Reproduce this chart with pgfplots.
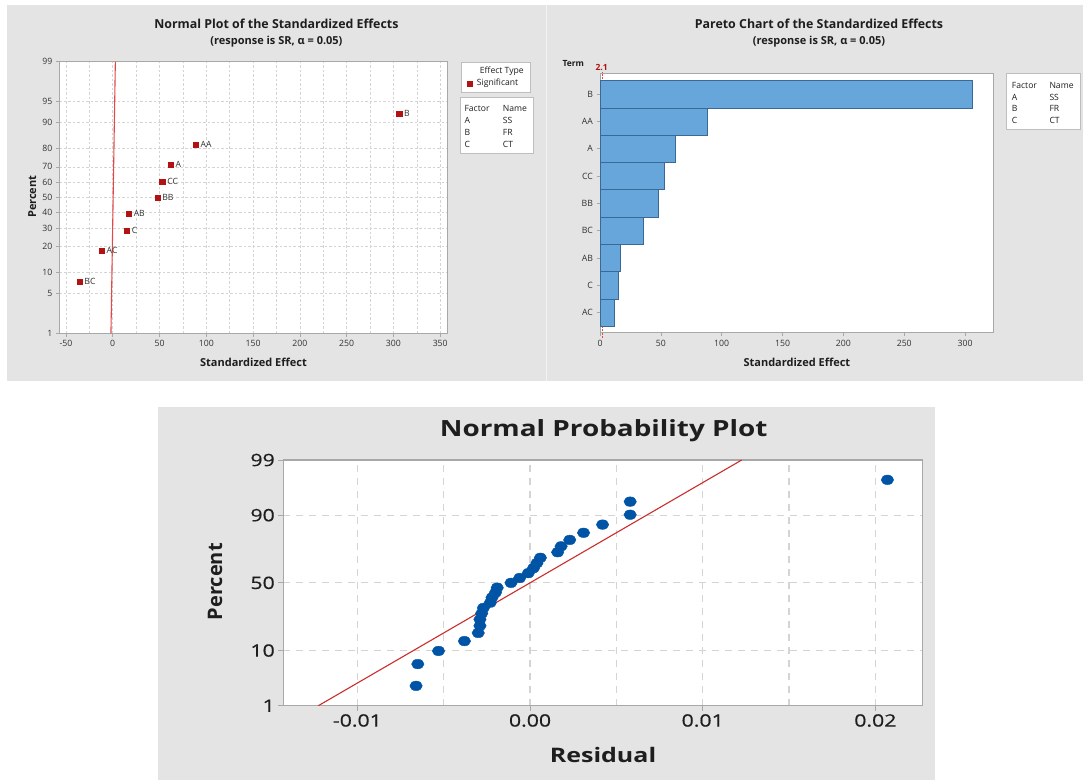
\documentclass[border=0pt]{standalone}
\usepackage{fontspec}
\setmainfont{Open Sans}
\newfontfamily\widefont[FakeStretch=1.25]{Open Sans}
\newfontfamily\widetickfont[FakeStretch=1.25, FakeBold=0.6]{Open Sans}
\usepackage{pgfplots}
\usepackage{pgfplotstable}
\pgfplotsset{compat=1.18}

\definecolor{panel}{RGB}{228,228,228}
\definecolor{divider}{RGB}{242,242,242}
\definecolor{framegray}{RGB}{168,168,168}
\definecolor{gridgray}{RGB}{212,212,212}
\definecolor{boxgray}{RGB}{190,190,190}
\definecolor{txt}{RGB}{30,30,30}
\definecolor{ticktxt}{RGB}{50,50,50}
\definecolor{effred}{RGB}{178,18,18}
\definecolor{refred}{RGB}{226,72,72}
\definecolor{fitred}{RGB}{204,45,45}
\definecolor{resblue}{RGB}{0,84,166}
\definecolor{barblue}{RGB}{102,166,218}
\definecolor{baredge}{RGB}{60,104,150}

% standardized effects (x) against normal scores (z) of their median ranks
\pgfplotstableread{
x      z        label
-35.7  -1.4431  BC
-11.9  -0.9121  AC
15.0   -0.5615  C
17.0   -0.2699  AB
47.6   0        BB
52.8   0.2699   CC
61.8   0.5615   A
88.5   0.9121   AA
306.0  1.4431   B
}\effects

% absolute standardized effects, Pareto order (row 0 at the bottom)
\pgfplotstableread{
pos effect
8   306.0
7   88.5
6   61.8
5   52.8
4   47.6
3   35.7
2   17.0
1   15.0
0   11.9
}\pareto

% residuals against normal scores, n = 27
\pgfplotstableread{
res      z
-0.0066  -1.9507
-0.0065  -1.5379
-0.0053  -1.2899
-0.0038  -1.1029
-0.0030  -0.9481
-0.0029  -0.8133
-0.0029  -0.6918
-0.0028  -0.5798
-0.0027  -0.4747
-0.0023  -0.3745
-0.0022  -0.2780
-0.0020  -0.1840
-0.0019  -0.0916
-0.0011  0
-0.0006  0.0916
-0.0001  0.1840
0.0002   0.2780
0.0004   0.3745
0.0006   0.4747
0.0016   0.5798
0.0018   0.6918
0.0023   0.8133
0.0031   0.9481
0.0042   1.1029
0.0058   1.2899
0.0058   1.5379
0.0207   1.9507
}\resid

\pgfplotsset{
  mtb/.style={
    scale only axis,
    axis background/.style={fill=white},
    tick align=outside,
    tick pos=left,
    tick style={framegray, line width=0.7pt},
    /pgf/number format/assume math mode=true,
  },
  smallkey/.style={
    legend image code/.code={\draw[mark repeat=2,mark phase=2,##1] plot coordinates {(0pt,0pt) (3pt,0pt) (6pt,0pt)};}
  },
}

\begin{document}
\begin{tikzpicture}[x=1pt,y=1pt]
% panels
\fill[white] (0,0) rectangle (1085,780);
\fill[panel] (7,398.5) rectangle (1083,775);
\fill[divider] (545.8,398.5) rectangle (547,775);
\fill[panel] (158,0) rectangle (935,373.3);

% ---------------- normal plot of the standardized effects ----------------
\begin{axis}[
  mtb,
  at={(59.3pt,446.7pt)}, anchor=south west,
  width=388.4pt, height=271.6pt,
  xmin=-57.1, xmax=358, ymin=-2.3263, ymax=2.3263,
  xtick={-50,0,50,100,150,200,250,300,350},
  minor xtick={-25,25,75,125,175,225,275,325},
  ytick={-2.3263,-1.6449,-1.2816,-0.8416,-0.5244,-0.2533,0,0.2533,0.5244,0.8416,1.2816,1.6449,2.3263},
  yticklabels={1,5,10,20,30,40,50,60,70,80,90,95,99},
  xmajorgrids, xminorgrids, ymajorgrids,
  grid style={gridgray, dash pattern=on 2.5pt off 2pt, line width=0.6pt},
  major tick length=3.5pt, minor tick length=0pt,
  tick label style={font=\fontsize{8.7}{9}\selectfont, text=ticktxt},
  axis line style={framegray, line width=1pt},
  legend style={at={(1.0335,1)}, anchor=north west, draw=boxgray, line width=0.8pt,
    fill=white, font=\fontsize{8.6}{10}\selectfont, text=txt,
    inner xsep=5.5pt, inner ysep=3.5pt, row sep=2pt, column sep=3.5pt,
    nodes={inner sep=1.2pt, text height=6.4pt, text depth=1.8pt}},
  legend cell align=left,
]
\addlegendimage{empty legend}
\addplot[refred, line width=1.1pt, forget plot] coordinates {(-1.9,-2.3263) (2.8,2.3263)};
\addplot[only marks, mark=square*, mark size=2.6pt, effred,
  mark options={draw=effred, fill=effred, line width=0.3pt},
  point meta=explicit symbolic,
  nodes near coords={\pgfplotspointmeta},
  nodes near coords style={anchor=west, inner sep=0pt, xshift=5pt,
    font=\fontsize{8.6}{10}\selectfont, text=ticktxt},
  smallkey,
] table[x=x, y=z, meta=label] {\effects};
\legend{\hspace{3pt}Effect Type, Significant}
\end{axis}

\node[anchor=base, font=\bfseries\fontsize{12.4}{14}\selectfont, text=txt] at (276.4,751.4) {Normal Plot of the Standardized Effects};
\node[anchor=base, font=\bfseries\fontsize{11}{13}\selectfont, text=txt] at (276.4,735.6) {(response is SR, α = 0.05)};
\node[rotate=90, font=\bfseries\fontsize{11}{13}\selectfont, text=txt] at (32.3,583.3) {Percent};
\node[font=\bfseries\fontsize{11}{13}\selectfont, text=txt] at (253.5,417.7) {Standardized Effect};

\draw[boxgray, line width=0.8pt, fill=white] (460.7,626.7) rectangle (533.3,682.7);
\begin{scope}[every node/.style={anchor=base west, inner sep=0pt, font=\fontsize{8.6}{10}\selectfont, text=txt}]
\node at (464.3,668.4) {Factor}; \node at (502.7,668.4) {Name};
\node at (464.3,656.4) {A};      \node at (502.7,656.4) {SS};
\node at (464.3,644.4) {B};      \node at (502.7,644.4) {FR};
\node at (464.3,632.6) {C};      \node at (502.7,632.6) {CT};
\end{scope}

% ---------------- Pareto chart of the standardized effects ----------------
\begin{axis}[
  mtb,
  at={(600pt,447.3pt)}, anchor=south west,
  width=393.7pt, height=258.7pt,
  xmin=0, xmax=323.5, ymin=-0.74, ymax=8.74,
  xtick={0,50,100,150,200,250,300},
  ytick={0,1,2,3,4,5,6,7,8},
  yticklabels={AC,C,AB,BC,BB,CC,A,AA,B},
  major tick length=3.5pt,
  tick label style={font=\fontsize{8.7}{9}\selectfont, text=ticktxt},
  axis line style={framegray, line width=1pt},
  clip=false,
]
\addplot[refred, dash pattern=on 2pt off 1.5pt, line width=0.8pt] coordinates {(2.1,-0.95) (2.1,8.8)};
\addplot[xbar, bar width=1, fill=barblue, draw=baredge, line width=0.6pt] table[x=effect, y=pos] {\pareto};
\end{axis}

\node[anchor=base, font=\bfseries\fontsize{12.4}{14}\selectfont, text=txt] at (819,751.4) {Pareto Chart of the Standardized Effects};
\node[anchor=base, font=\bfseries\fontsize{11}{13}\selectfont, text=txt] at (819,735.6) {(response is SR, α = 0.05)};
\node[font=\bfseries\fontsize{11}{13}\selectfont, text=txt] at (796.9,417.7) {Standardized Effect};
\node[font=\bfseries\fontsize{8.5}{10}\selectfont, text=txt] at (573.3,716) {Term};
\node[font=\bfseries\fontsize{8.5}{10}\selectfont, text=effred] at (601.7,712.2) {2.1};

\draw[boxgray, line width=0.8pt, fill=white] (1006.7,651) rectangle (1080.7,706.7);
\begin{scope}[every node/.style={anchor=base west, inner sep=0pt, font=\fontsize{8.6}{10}\selectfont, text=txt}]
\node at (1011.7,691.2) {Factor}; \node at (1049.3,691.2) {Name};
\node at (1011.7,679.6) {A};      \node at (1049.3,679.6) {SS};
\node at (1011.7,668.2) {B};      \node at (1049.3,668.2) {FR};
\node at (1011.7,656.9) {C};      \node at (1049.3,656.9) {CT};
\end{scope}

% ---------------- normal probability plot of the residuals ----------------
\begin{axis}[
  mtb,
  at={(283.3pt,74.3pt)}, anchor=south west,
  width=639pt, height=245.7pt,
  xmin=-0.01429, xmax=0.02272, ymin=-2.3263, ymax=2.3263,
  xtick={-0.01,0,0.01,0.02}, xticklabels={-0.01,0.00,0.01,0.02},
  scaled x ticks=false,
  minor xtick={-0.005,0.005,0.015},
  ytick={-2.3263,-1.2816,0,1.2816,2.3263}, yticklabels={1,10,50,90,99},
  xmajorgrids, xminorgrids, ymajorgrids,
  grid style={gridgray, dash pattern=on 7pt off 6pt, line width=1.1pt},
  major tick length=5pt, minor tick length=0pt,
  tick label style={font=\widetickfont\fontsize{17}{17}\selectfont, text=txt},
  axis line style={framegray, line width=1.4pt},
]
\addplot[fitred, line width=1.1pt] coordinates {(-0.01226,-2.3263) (0.01226,2.3263)};
\addplot[only marks, mark=*, mark size=4.8pt,
  mark options={xscale=1.3, draw=resblue, fill=resblue}] table[x=res, y=z] {\resid};
\end{axis}

\node[anchor=base, font=\widefont\bfseries\fontsize{22.3}{24}\selectfont, text=txt] at (603.7,343.7) {Normal Probability Plot};
\node[anchor=base, font=\widefont\bfseries\fontsize{20}{22}\selectfont, text=txt] at (603,17.9) {Residual};
\node[rotate=90, font=\bfseries\fontsize{20}{22}\selectfont, text=txt] at (215,198.3) {Percent};

\pgfresetboundingbox
\path[use as bounding box] (0,0) rectangle (1085,780);
\end{tikzpicture}
\end{document}
